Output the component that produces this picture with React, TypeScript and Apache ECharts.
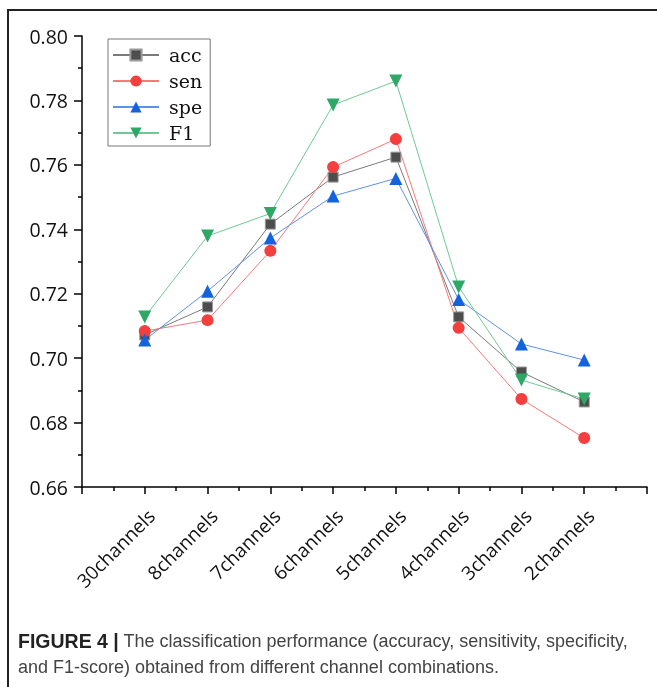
import React, { useEffect, useRef } from "react";
import * as echarts from "echarts";

const categories = ["30channels", "8channels", "7channels", "6channels", "5channels", "4channels", "3channels", "2channels"];
const accValues = [0.7072, 0.7159, 0.7416, 0.7562, 0.7624, 0.7128, 0.6957, 0.6864];
const senValues = [0.7084, 0.7118, 0.7333, 0.7593, 0.768, 0.7094, 0.6873, 0.6752];
const speValues = [0.7056, 0.7208, 0.7373, 0.7503, 0.7558, 0.7182, 0.7044, 0.6994];
const f1Values = [0.7128, 0.7379, 0.7449, 0.7786, 0.786, 0.7221, 0.6932, 0.6873];
const yTicks = [0.66, 0.68, 0.7, 0.72, 0.74, 0.76, 0.78, 0.8];

const toPairs = (vals: number[]) => vals.map((v, i) => [i + 1, v]);

export default function App() {
  const ref = useRef<HTMLDivElement>(null);
  useEffect(() => {
    if (!ref.current) return;
    const chart = echarts.init(ref.current, undefined, { renderer: "svg" });
    const mk = (
      name: string,
      vals: number[],
      lineColor: string,
      markColor: string,
      symbol: string,
      size: number,
      rotate = 0,
      border = "transparent"
    ) => ({
      name,
      type: "line",
      data: toPairs(vals),
      symbol,
      symbolSize: size,
      symbolRotate: rotate,
      lineStyle: { color: lineColor, width: 1 },
      itemStyle: { color: markColor, borderColor: border, borderWidth: border === "transparent" ? 0 : 1 },
      emphasis: { disabled: true },
    });
    chart.setOption({
      animation: false,
      grid: { left: 82, right: 10, top: 36, bottom: 200, containLabel: false },
      legend: {
        orient: "vertical",
        left: 108,
        top: 39,
        padding: [6, 8, 3, 4],
        itemWidth: 46,
        itemHeight: 14,
        itemGap: 6,
        borderColor: "#777",
        borderWidth: 1,
        textStyle: {
          fontFamily: "DejaVu Serif",
          fontSize: 19,
          color: "#111",
          lineHeight: 20,
          padding: [0, 0, 0, 5],
        },
        data: ["acc", "sen", "spe", "F1"],
      },
      xAxis: {
        type: "value",
        min: 0,
        max: 9,
        interval: 1,
        splitLine: { show: false },
        axisLine: { show: true, onZero: false, lineStyle: { color: "#000", width: 1.5 } },
        axisTick: { show: true, length: 7, lineStyle: { color: "#000", width: 1.5 } },
        minorTick: { show: true, splitNumber: 2, length: 4, lineStyle: { color: "#000", width: 1.5 } },
        axisLabel: {
          rotate: 45,
          margin: 19,
          align: "right",
          verticalAlign: "top",
          fontFamily: "Open Sans",
          fontSize: 19,
          color: "#111",
          showMinLabel: true,
          showMaxLabel: true,
          formatter: (v: number) => (v >= 1 && v <= categories.length ? categories[v - 1] : ""),
        },
      },
      yAxis: {
        type: "value",
        min: yTicks[0],
        max: yTicks[yTicks.length - 1],
        interval: 0.02,
        splitLine: { show: false },
        axisLine: { show: true, onZero: false, lineStyle: { color: "#000", width: 1.5 } },
        axisTick: { show: true, length: 8, lineStyle: { color: "#000", width: 1.5 } },
        minorTick: { show: true, splitNumber: 2, length: 4, lineStyle: { color: "#000", width: 1.5 } },
        axisLabel: {
          margin: 14,
          fontFamily: "Open Sans",
          fontSize: 19.5,
          color: "#111",
          formatter: (v: number) => v.toFixed(2),
        },
      },
      series: [
        mk("acc", accValues, "#7a7a7a", "#4d4d4d", "rect", 10, 0, "#9a9a9a"),
        mk("sen", senValues, "#f57a7a", "#f43f3f", "circle", 12),
        mk("spe", speValues, "#5d92e8", "#1563dc", "triangle", 13),
        mk("F1", f1Values, "#6fc994", "#2ea866", "triangle", 13, 180),
      ],
      graphic: [
        {
          type: "rect",
          shape: { x: 8, y: 10, width: 720, height: 720 },
          style: { fill: "none", stroke: "#222", lineWidth: 2 },
          silent: true,
        },
        {
          type: "text",
          x: 18,
          y: 628,
          style: {
            text: "{b|FIGURE 4 |}{r| The classification performance (accuracy, sensitivity, specificity,}\n{r|and F1-score) obtained from different channel combinations.}",
            fontFamily: "Liberation Sans",
            fontSize: 18,
            fill: "#444",
            lineHeight: 26,
            rich: {
              b: { fontWeight: "bold", fill: "#222", fontFamily: "Liberation Sans", fontSize: 19.5, lineHeight: 26 },
              r: { fill: "#444", fontFamily: "Liberation Sans", fontSize: 18, lineHeight: 26 },
            },
          },
          silent: true,
        },
      ],
    });
    return () => chart.dispose();
  }, []);
  return <div ref={ref} style={{ position: "fixed", left: 0, top: 0, width: 657, height: 687 }} />;
}
